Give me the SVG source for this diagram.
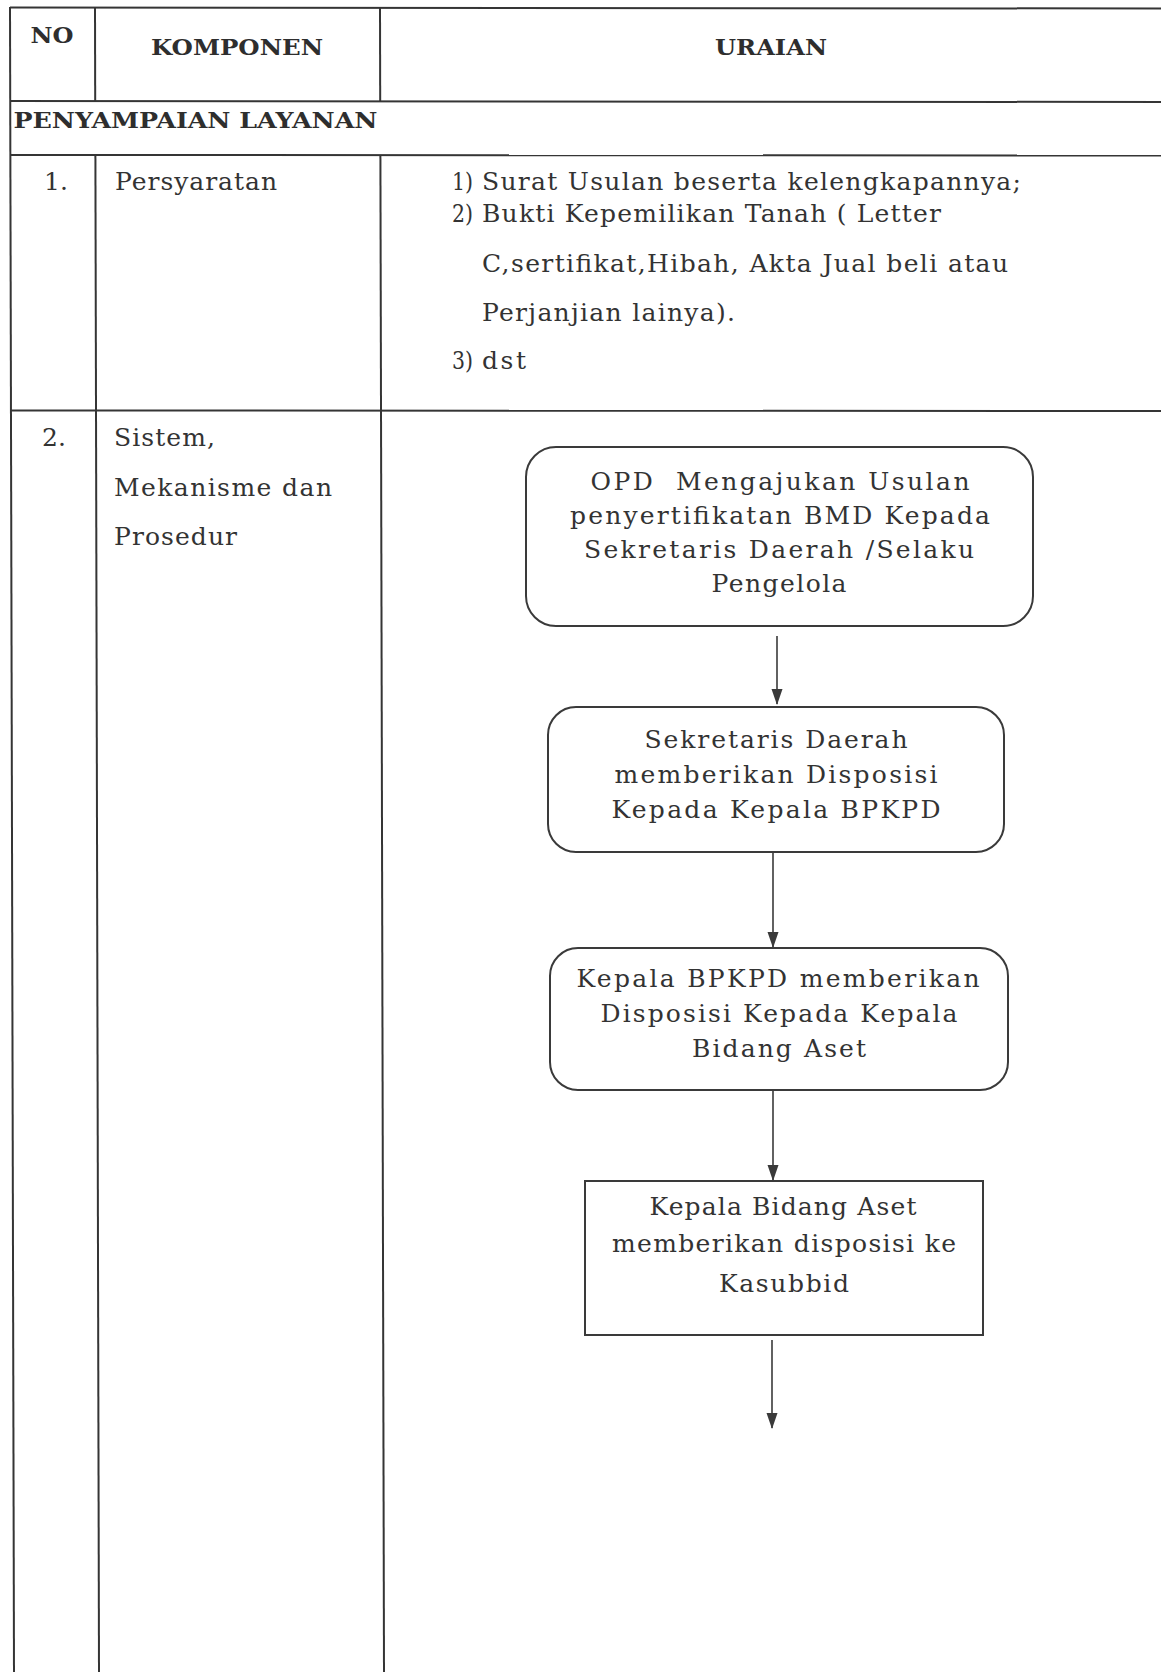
<svg xmlns="http://www.w3.org/2000/svg" width="1161" height="1672" viewBox="0 0 1161 1672">
  <style>
    .grid { stroke: #353535; stroke-width: 2; fill: none; }
    .hd { font-family: "DejaVu Serif", "Liberation Serif", serif; font-weight: bold; font-size: 23px; fill: #2e2e2e; }
    .tx { font-family: "DejaVu Serif", "Liberation Serif", serif; font-size: 25px; fill: #333; }
    .bx { font-family: "DejaVu Serif", "Liberation Serif", serif; font-size: 25px; fill: #333; text-anchor: middle; }
    .node { fill: #fff; stroke: #3a3a3a; stroke-width: 2; }
    .edge { stroke: #3a3a3a; stroke-width: 1.6; fill: none; marker-end: url(#head); }
  </style>
  <defs>
    <!-- filled triangular arrowhead, tip at the end of the line -->
    <marker id="head" markerUnits="userSpaceOnUse" markerWidth="16" markerHeight="12" refX="15" refY="6" orient="auto" viewBox="0 0 16 12">
      <path d="M0,0.5 L16,6 L0,11.5 Z" fill="#3a3a3a"/>
    </marker>
  </defs>
  <rect width="1161" height="1672" fill="#fff"/>

  <!-- table rules -->
  <g id="table">
    <line class="grid" x1="10" y1="7.5" x2="1161" y2="8.5"/>
    <line class="grid" x1="10" y1="101" x2="1161" y2="102"/>
    <line class="grid" x1="10" y1="155" x2="1161" y2="155.5"/>
    <line class="grid" x1="10.5" y1="410.5" x2="1161" y2="411"/>
    <line class="grid" x1="10" y1="7" x2="14" y2="1672"/>
    <line class="grid" x1="95" y1="7" x2="95.2" y2="101"/>
    <line class="grid" x1="95.4" y1="155" x2="99" y2="1672"/>
    <line class="grid" x1="380" y1="7" x2="380.2" y2="101"/>
    <line class="grid" x1="380.4" y1="155" x2="384" y2="1672"/>
  </g>

  <!-- header and row texts -->
  <g id="header">
    <text class="hd" x="52" y="43" text-anchor="middle" textLength="43" lengthAdjust="spacingAndGlyphs">NO</text>
    <text class="hd" x="237" y="55" text-anchor="middle" textLength="172" lengthAdjust="spacingAndGlyphs">KOMPONEN</text>
    <text class="hd" x="771" y="55" text-anchor="middle" textLength="112" lengthAdjust="spacingAndGlyphs">URAIAN</text>
    <text class="hd" x="13.5" y="128" textLength="364" lengthAdjust="spacingAndGlyphs">PENYAMPAIAN LAYANAN</text>
  </g>

  <g id="row1">
    <text class="tx" x="44" y="190">1.</text>
    <text class="tx" x="115" y="190" textLength="162" lengthAdjust="spacing">Persyaratan</text>
    <text class="tx" x="452" y="190" textLength="21" lengthAdjust="spacingAndGlyphs">1)</text>
    <text class="tx" x="482" y="190" textLength="539" lengthAdjust="spacing">Surat Usulan beserta kelengkapannya;</text>
    <text class="tx" x="452" y="222" textLength="21" lengthAdjust="spacingAndGlyphs">2)</text>
    <text class="tx" x="482" y="222" textLength="459" lengthAdjust="spacing">Bukti Kepemilikan Tanah ( Letter</text>
    <text class="tx" x="482" y="272" textLength="526" lengthAdjust="spacing">C,sertifikat,Hibah, Akta Jual beli atau</text>
    <text class="tx" x="482" y="321" textLength="253" lengthAdjust="spacing">Perjanjian lainya).</text>
    <text class="tx" x="452" y="369" textLength="21" lengthAdjust="spacingAndGlyphs">3)</text>
    <text class="tx" x="482" y="369" textLength="44" lengthAdjust="spacing">dst</text>
  </g>

  <g id="row2">
    <text class="tx" x="42" y="446">2.</text>
    <text class="tx" x="114" y="446" textLength="101" lengthAdjust="spacing">Sistem,</text>
    <text class="tx" x="114" y="496" textLength="218" lengthAdjust="spacing">Mekanisme dan</text>
    <text class="tx" x="114" y="545" textLength="123" lengthAdjust="spacing">Prosedur</text>
  </g>

  <!-- flow steps -->
  <g id="step1">
    <rect class="node" x="526" y="447" width="507" height="179" rx="30"/>
    <text class="bx" x="780" y="490" textLength="379" lengthAdjust="spacing" xml:space="preserve">OPD  Mengajukan Usulan</text>
    <text class="bx" x="780" y="524" textLength="420" lengthAdjust="spacing">penyertifikatan BMD Kepada</text>
    <text class="bx" x="779" y="558" textLength="390" lengthAdjust="spacing">Sekretaris Daerah /Selaku</text>
    <text class="bx" x="779" y="592" textLength="135" lengthAdjust="spacing">Pengelola</text>
  </g>

  <g id="step2">
    <rect class="node" x="548" y="707" width="456" height="145" rx="28"/>
    <text class="bx" x="776" y="748" textLength="263" lengthAdjust="spacing">Sekretaris Daerah</text>
    <text class="bx" x="776" y="783" textLength="323" lengthAdjust="spacing">memberikan Disposisi</text>
    <text class="bx" x="776" y="818" textLength="329" lengthAdjust="spacing">Kepada Kepala BPKPD</text>
  </g>

  <g id="step3">
    <rect class="node" x="550" y="948" width="458" height="142" rx="28"/>
    <text class="bx" x="778" y="987" textLength="403" lengthAdjust="spacing">Kepala BPKPD memberikan</text>
    <text class="bx" x="779" y="1022" textLength="357" lengthAdjust="spacing">Disposisi Kepada Kepala</text>
    <text class="bx" x="779" y="1057" textLength="174" lengthAdjust="spacing">Bidang Aset</text>
  </g>

  <g id="step4">
    <rect class="node" x="585" y="1181" width="398" height="154"/>
    <text class="bx" x="783" y="1215" textLength="267" lengthAdjust="spacing">Kepala Bidang Aset</text>
    <text class="bx" x="784" y="1252" textLength="344" lengthAdjust="spacing">memberikan disposisi ke</text>
    <text class="bx" x="784" y="1292" textLength="130" lengthAdjust="spacing">Kasubbid</text>
  </g>

  <!-- connectors -->
  <g id="connectors">
    <line class="edge" x1="777" y1="636" x2="777" y2="704"/>
    <line class="edge" x1="773" y1="853" x2="773" y2="947"/>
    <line class="edge" x1="773" y1="1091" x2="773" y2="1180"/>
    <line class="edge" x1="772" y1="1340" x2="772" y2="1428"/>
  </g>
</svg>
